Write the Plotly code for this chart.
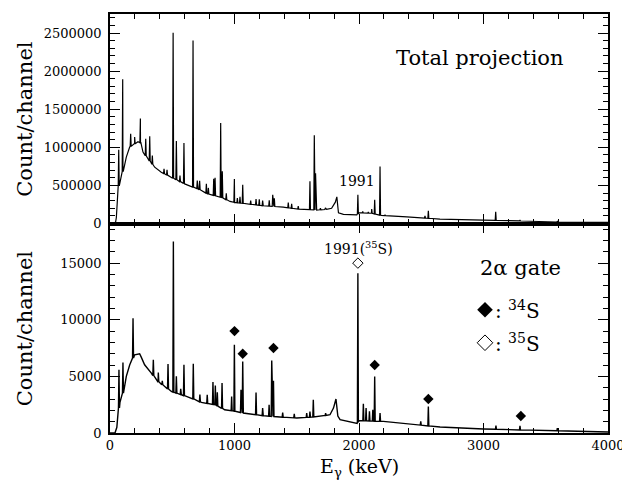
import numpy as np
import plotly.graph_objects as go

# ---------------- data ----------------
# Total projection: smooth background (keV, counts/channel)
top_cont_e = [0, 35, 45, 51, 59, 64, 78, 104, 131, 158, 198, 225, 245, 265, 305, 359, 412, 492,
              600, 707, 787, 894, 964, 1001, 1231, 1392, 1500, 1660, 1740, 1780, 1810, 1822, 1835,
              1875, 1982, 2000, 2100, 2180, 2384, 2650, 3000, 3300, 3590, 4000]
top_cont_v = [0, 0, 20e3, 79e3, 299e3, 475e3, 520e3, 695e3, 871e3, 1003e3, 1047e3, 1073e3, 1060e3,
              937e3, 850e3, 739e3, 673e3, 607e3, 520e3, 454e3, 388e3, 343e3, 290e3, 277e3, 233e3,
              215e3, 190e3, 177e3, 185e3, 200e3, 280e3, 350e3, 140e3, 120e3, 112e3, 140e3, 135e3,
              105e3, 88e3, 58e3, 45e3, 33e3, 20e3, 15e3]
# Total projection: peaks (keV, peak height)
top_peak_e = [70, 102, 166, 198, 244, 287, 319, 340, 434, 458, 507, 533, 562, 594, 667, 701, 720,
              774, 790, 833, 844, 889, 902, 934, 999, 1023, 1044, 1066, 1130, 1173, 1199, 1226,
              1279, 1307, 1320, 1432, 1459, 1512, 1606, 1641, 1651, 1690, 1730, 1991, 2030, 2075,
              2102, 2126, 2169, 2209, 2480, 2530, 2557, 3098, 3293, 3593]
top_peak_v = [968e3, 1892e3, 1179e3, 1135e3, 1377e3, 1113e3, 1144e3, 893e3, 718e3, 705e3, 2505e3,
              1082e3, 629e3, 1055e3, 2401e3, 563e3, 560e3, 520e3, 467e3, 586e3, 600e3, 1319e3,
              686e3, 396e3, 585e3, 335e3, 350e3, 510e3, 300e3, 320e3, 318e3, 300e3, 305e3, 378e3,
              330e3, 275e3, 260e3, 230e3, 554e3, 1157e3, 660e3, 200e3, 205e3, 378e3, 160e3, 150e3,
              190e3, 313e3, 748e3, 115e3, 85e3, 100e3, 168e3, 154e3, 45e3, 28e3]

# 2-alpha gate: background
gate_cont_e = [0, 40, 55, 60, 80, 112, 131, 158, 198, 238, 251, 278, 332, 386, 439, 493, 573, 653,
               734, 841, 921, 1012, 1071, 1231, 1365, 1500, 1660, 1767, 1795, 1815, 1830, 1848,
               1954, 1985, 2000, 2100, 2196, 2384, 2651, 3000, 3455, 4000]
gate_cont_v = [0, 0, 500, 1500, 2700, 3800, 5000, 6000, 6906, 7000, 6700, 6024, 5292, 4551, 4110,
               3669, 3378, 3087, 2700, 2496, 2055, 1905, 1764, 1526, 1411, 1323, 1440, 1614, 2200,
               3000, 1500, 1173, 882, 850, 1100, 1050, 1023, 820, 529, 353, 229, 88]
# 2-alpha gate: peaks
gate_peak_e = [72, 104, 185, 348, 388, 420, 466, 509, 533, 568, 594, 669, 722, 781, 827, 846, 862,
               900, 977, 999, 1052, 1066, 1173, 1226, 1278, 1299, 1313, 1387, 1480, 1580, 1606,
               1633, 1732, 1991, 2035, 2057, 2084, 2111, 2126, 2169, 2276, 2496, 2557, 3100, 3293,
               3593]
gate_peak_v = [5585, 6227, 10143, 6465, 5345, 4600, 6086, 16900, 5000, 3900, 6024, 6112, 3400, 3380,
               4498, 4200, 3600, 4410, 3228, 7788, 3819, 6316, 3581, 2205, 2500, 6404, 4613, 1800,
               1700, 1750, 1900, 2937, 1750, 14112, 2586, 2205, 1911, 2058, 4994, 1764, 970, 1029,
               2346, 644, 644, 440]

# marked lines
s34_e = [1000, 1066, 1313, 2126, 2557, 3300]
s34_v = [9000, 7000, 7500, 6000, 3000, 1500]
s35_e = [1991]
s35_v = [15000]

y_ticks_top = [0, 500000, 1000000, 1500000, 2000000, 2500000]
y_ticks_gate = [0, 5000, 10000, 15000]
x_ticks = [0, 1000, 2000, 3000, 4000]

FONT = "DejaVu Serif"


def spectrum(cont_e, cont_v, peak_e, peak_v, hw=4):
    xs = list(cont_e)
    ys = list(cont_v)
    base = np.interp(peak_e, cont_e, cont_v)
    for e, v, b in zip(peak_e, peak_v, base):
        xs += [e - hw, e, e + hw]
        ys += [b, v, b]
    order = np.argsort(xs, kind="stable")
    return np.array(xs)[order], np.array(ys)[order]


tx, ty = spectrum(top_cont_e, top_cont_v, top_peak_e, top_peak_v)
gx, gy = spectrum(gate_cont_e, gate_cont_v, gate_peak_e, gate_peak_v)

fig = go.Figure()
fig.add_trace(go.Scatter(x=tx, y=ty, mode="lines", xaxis="x2", yaxis="y2",
                         line=dict(color="black", width=1.2), showlegend=False))
fig.add_trace(go.Scatter(x=gx, y=gy, mode="lines", xaxis="x", yaxis="y",
                         line=dict(color="black", width=1.4), showlegend=False))
fig.add_trace(go.Scatter(x=s34_e, y=s34_v, mode="markers", xaxis="x", yaxis="y",
                         marker=dict(symbol="diamond", size=8, color="black"), showlegend=False))
fig.add_trace(go.Scatter(x=s35_e, y=s35_v, mode="markers", xaxis="x", yaxis="y",
                         marker=dict(symbol="diamond-open", size=8, color="black",
                                     line=dict(width=1)), showlegend=False))
# key symbols
fig.add_trace(go.Scatter(x=[3012], y=[10880], mode="markers", xaxis="x", yaxis="y",
                         marker=dict(symbol="diamond", size=12, color="black"), showlegend=False))
fig.add_trace(go.Scatter(x=[3012], y=[7970], mode="markers", xaxis="x", yaxis="y",
                         marker=dict(symbol="diamond-open", size=12, color="black",
                                     line=dict(width=1)), showlegend=False))

axis_common = dict(showline=True, linecolor="black", linewidth=1.5, mirror="allticks",
                   ticks="inside", ticklen=10, tickwidth=1.2, tickcolor="black",
                   showgrid=False, zeroline=False, automargin=False,
                   tickfont=dict(family=FONT, size=13, color="black"))

# the page body adds an 8 px offset, so the margins are shifted to compensate
fig.update_layout(
    width=630, height=485,
    margin=dict(l=102, r=30, t=6, b=60, autoexpand=False),
    paper_bgcolor="white", plot_bgcolor="white",
    xaxis=dict(axis_common, domain=[0, 1], anchor="y", range=[0, 4000],
               tickvals=x_ticks, ticktext=[str(v) for v in x_ticks],
               minor=dict(ticks="inside", ticklen=5, tickwidth=1, tickcolor="black", dtick=200)),
    xaxis2=dict(axis_common, domain=[0, 1], anchor="y2", range=[0, 4000], matches="x",
                showticklabels=False, tickvals=x_ticks,
                minor=dict(ticks="inside", ticklen=5, tickwidth=1, tickcolor="black", dtick=200)),
    yaxis=dict(axis_common, domain=[0, 0.5], anchor="x", range=[0, 18500],
               tickvals=y_ticks_gate, ticktext=[str(v) for v in y_ticks_gate],
               ticklabelstandoff=4,
               minor=dict(ticks="inside", ticklen=5, tickwidth=1, tickcolor="black", dtick=1000)),
    yaxis2=dict(axis_common, domain=[0.5, 1], anchor="x2", range=[0, 2750000],
                tickvals=y_ticks_top, ticktext=[str(v) for v in y_ticks_top],
                ticklabelstandoff=4,
                minor=dict(ticks="inside", ticklen=5, tickwidth=1, tickcolor="black", dtick=100000)),
)

ann = [
    dict(text="Count/channel", xref="paper", yref="paper", x=-0.1707, y=0.75, textangle=-90,
         showarrow=False, font=dict(family=FONT, size=21), xanchor="center", yanchor="middle"),
    dict(text="Count/channel", xref="paper", yref="paper", x=-0.1707, y=0.25, textangle=-90,
         showarrow=False, font=dict(family=FONT, size=21), xanchor="center", yanchor="middle"),
    dict(text="E<sub>γ</sub> (keV)", xref="paper", yref="paper", x=0.5, y=-0.082,
         showarrow=False, font=dict(family=FONT, size=19), xanchor="center", yanchor="middle"),
    dict(text="Total projection", xref="x2", yref="y2", x=2972, y=2173000, showarrow=False,
         font=dict(family=FONT, size=21), xanchor="center", yanchor="middle"),
    dict(text="1991", xref="x2", yref="y2", x=1984, y=563000, showarrow=False,
         font=dict(family=FONT, size=14), xanchor="center", yanchor="middle"),
    dict(text="1991(<sup>35</sup>S)", xref="x", yref="y", x=1992, y=16340, showarrow=False,
         font=dict(family=FONT, size=14), xanchor="center", yanchor="middle"),
    dict(text="2α gate", xref="x", yref="y", x=3301, y=14580, showarrow=False,
         font=dict(family=FONT, size=21), xanchor="center", yanchor="middle"),
    dict(text=": <sup>34</sup>S", xref="x", yref="y", x=3076, y=10880, showarrow=False,
         font=dict(family=FONT, size=20), xanchor="left", yanchor="middle"),
    dict(text=": <sup>35</sup>S", xref="x", yref="y", x=3076, y=7970, showarrow=False,
         font=dict(family=FONT, size=20), xanchor="left", yanchor="middle"),
]
for a in ann:
    a["font"]["color"] = "black"
fig.update_layout(annotations=ann)

fig.write_html("out.html")
